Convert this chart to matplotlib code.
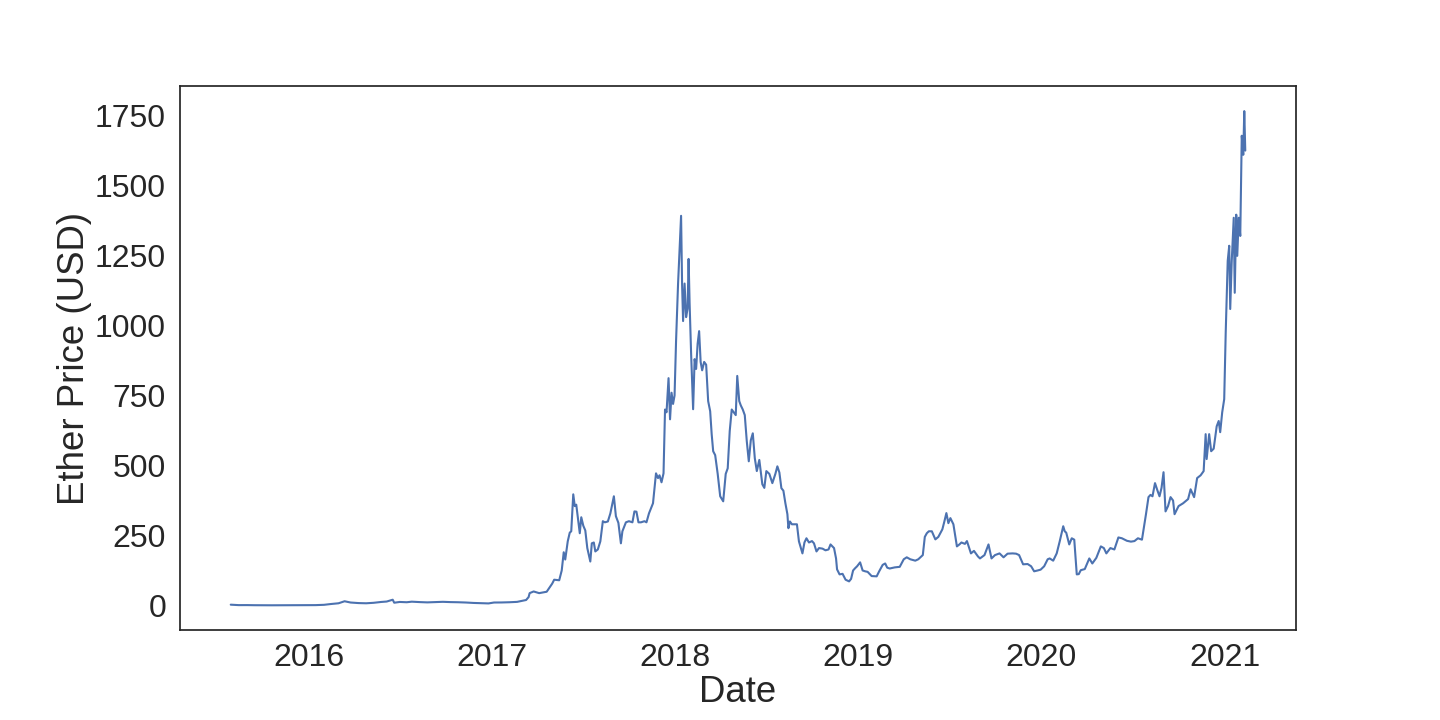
import pandas as pd
import matplotlib
matplotlib.use("Agg")
import matplotlib.pyplot as plt
import seaborn as sns

# Ether price (USD)
dates_2015 = ["2015-07-30", "2015-08-15", "2015-09-01", "2015-09-15", "2015-10-20",
              "2015-11-10", "2015-12-01", "2015-12-31"]
prices_2015 = [2.8, 1.2, 1.3, 0.9, 0.6, 0.9, 0.9, 0.9]

dates_2016 = ["2016-01-15", "2016-02-01", "2016-02-15", "2016-03-01", "2016-03-13",
              "2016-03-25", "2016-04-10", "2016-04-25", "2016-05-10", "2016-05-25",
              "2016-06-05", "2016-06-17", "2016-06-20", "2016-07-01", "2016-07-15",
              "2016-07-25", "2016-08-10", "2016-08-25", "2016-09-10", "2016-09-25",
              "2016-10-10", "2016-10-25", "2016-11-10", "2016-11-25", "2016-12-10",
              "2016-12-25"]
prices_2016 = [1.2, 2.3, 5.2, 7.8, 15, 10.5, 8.5, 7.8, 9.5, 12.5,
               14, 20.5, 9.8, 12.5, 11.5, 13.5, 12, 11, 12, 13,
               12, 11.5, 10.5, 9, 8.3, 7.3]

dates_2017 = ["2017-01-05", "2017-01-20", "2017-02-05", "2017-02-20", "2017-03-01",
              "2017-03-10", "2017-03-15", "2017-03-17", "2017-03-25", "2017-04-05",
              "2017-04-20", "2017-05-01", "2017-05-05", "2017-05-15", "2017-05-20",
              "2017-05-24", "2017-05-27", "2017-06-01", "2017-06-05", "2017-06-08",
              "2017-06-12", "2017-06-15", "2017-06-18", "2017-06-22", "2017-06-25",
              "2017-06-28", "2017-07-02", "2017-07-06", "2017-07-10", "2017-07-16",
              "2017-07-19", "2017-07-23", "2017-07-26", "2017-07-31", "2017-08-05",
              "2017-08-10", "2017-08-14", "2017-08-20", "2017-08-25", "2017-09-01",
              "2017-09-05", "2017-09-10", "2017-09-15", "2017-09-18", "2017-09-25",
              "2017-10-01", "2017-10-08", "2017-10-12", "2017-10-16", "2017-10-20",
              "2017-10-25", "2017-11-01", "2017-11-05", "2017-11-10", "2017-11-18",
              "2017-11-24", "2017-11-28", "2017-12-01", "2017-12-05", "2017-12-09",
              "2017-12-12", "2017-12-15", "2017-12-19", "2017-12-22", "2017-12-25",
              "2017-12-28", "2017-12-31"]
prices_2017 = [10.5, 10.7, 11.5, 12.8, 16, 19.5, 30, 44, 50, 44,
               49, 78, 92, 90, 125, 190, 164, 229, 260, 265,
               397, 355, 360, 300, 258, 315, 285, 268, 205, 157,
               222, 225, 193, 200, 229, 301, 297, 300, 329, 390,
               319, 295, 222, 265, 297, 301, 297, 336, 335, 297,
               297, 301, 297, 329, 365, 472, 455, 465, 440, 472,
               700, 690, 812, 665, 760, 720, 750]

dates_2018 = ["2018-01-03", "2018-01-07", "2018-01-10", "2018-01-13", "2018-01-15",
              "2018-01-17", "2018-01-20", "2018-01-23", "2018-01-26", "2018-01-28",
              "2018-01-30", "2018-02-02", "2018-02-06", "2018-02-09", "2018-02-12",
              "2018-02-15", "2018-02-18", "2018-02-21", "2018-02-24", "2018-02-28",
              "2018-03-04", "2018-03-08", "2018-03-12", "2018-03-15", "2018-03-18",
              "2018-03-22", "2018-03-27", "2018-04-01", "2018-04-07", "2018-04-12",
              "2018-04-16", "2018-04-20", "2018-04-24", "2018-04-28", "2018-05-02",
              "2018-05-05", "2018-05-09", "2018-05-12", "2018-05-16", "2018-05-20",
              "2018-05-24", "2018-05-28", "2018-06-01", "2018-06-05", "2018-06-09",
              "2018-06-13", "2018-06-18", "2018-06-24", "2018-06-28", "2018-07-02",
              "2018-07-08", "2018-07-14", "2018-07-20", "2018-07-24", "2018-07-28",
              "2018-08-01", "2018-08-05", "2018-08-09", "2018-08-13", "2018-08-15",
              "2018-08-18", "2018-08-22", "2018-08-27", "2018-09-01", "2018-09-05",
              "2018-09-12", "2018-09-16", "2018-09-20", "2018-09-25", "2018-10-01",
              "2018-10-05", "2018-10-10", "2018-10-15", "2018-10-22", "2018-10-28",
              "2018-11-03", "2018-11-07", "2018-11-14", "2018-11-18", "2018-11-20",
              "2018-11-25", "2018-12-01", "2018-12-07", "2018-12-14", "2018-12-18",
              "2018-12-22", "2018-12-26", "2018-12-30"]
prices_2018 = [945, 1150, 1270, 1392, 1149, 1016, 1150, 1030, 1060, 1238,
               1080, 900, 701, 880, 845, 935, 980, 870, 840, 870,
               860, 730, 694, 612, 551, 537, 470, 390, 372, 470,
               490, 623, 700, 690, 680, 820, 730, 715, 700, 680,
               587, 515, 590, 615, 526, 480, 520, 433, 420, 480,
               470, 437, 470, 497, 475, 419, 410, 365, 326, 276,
               300, 290, 290, 290, 229, 186, 225, 240, 225, 230,
               222, 193, 205, 203, 197, 200, 218, 205, 168, 129,
               111, 113, 92, 86, 95, 125, 133, 140]

dates_2019 = ["2019-01-05", "2019-01-10", "2019-01-15", "2019-01-20", "2019-01-28",
              "2019-02-07", "2019-02-12", "2019-02-19", "2019-02-24", "2019-02-28",
              "2019-03-05", "2019-03-15", "2019-03-25", "2019-04-02", "2019-04-08",
              "2019-04-15", "2019-04-25", "2019-05-01", "2019-05-10", "2019-05-14",
              "2019-05-18", "2019-05-22", "2019-05-28", "2019-06-04", "2019-06-10",
              "2019-06-18", "2019-06-22", "2019-06-26", "2019-06-30", "2019-07-04",
              "2019-07-10", "2019-07-17", "2019-07-22", "2019-07-26", "2019-08-02",
              "2019-08-06", "2019-08-14", "2019-08-20", "2019-08-28", "2019-09-01",
              "2019-09-10", "2019-09-18", "2019-09-24", "2019-10-01", "2019-10-10",
              "2019-10-18", "2019-10-26", "2019-11-05", "2019-11-12", "2019-11-18",
              "2019-11-26", "2019-12-05", "2019-12-12", "2019-12-18", "2019-12-25",
              "2019-12-31"]
prices_2019 = [154, 125, 122, 120, 105, 104, 122, 145, 150, 135,
               132, 136, 138, 165, 172, 165, 160, 165, 180, 245,
               258, 265, 265, 236, 245, 272, 300, 330, 294, 312,
               290, 211, 218, 225, 220, 230, 186, 195, 175, 168,
               180, 218, 168, 180, 186, 172, 185, 186, 185, 180,
               147, 148, 140, 122, 125, 128]

dates_2020 = ["2020-01-07", "2020-01-14", "2020-01-18", "2020-01-25", "2020-02-01",
              "2020-02-07", "2020-02-14", "2020-02-17", "2020-02-20", "2020-02-26",
              "2020-03-02", "2020-03-07", "2020-03-12", "2020-03-16", "2020-03-20",
              "2020-03-28", "2020-04-06", "2020-04-12", "2020-04-20", "2020-04-29",
              "2020-05-05", "2020-05-10", "2020-05-18", "2020-05-26", "2020-06-03",
              "2020-06-10", "2020-06-20", "2020-06-28", "2020-07-05", "2020-07-12",
              "2020-07-20", "2020-07-24", "2020-07-28", "2020-08-02", "2020-08-06",
              "2020-08-10", "2020-08-15", "2020-08-20", "2020-08-24", "2020-08-28",
              "2020-09-01", "2020-09-05", "2020-09-10", "2020-09-15", "2020-09-20",
              "2020-09-23", "2020-10-01", "2020-10-10", "2020-10-20", "2020-10-25",
              "2020-11-01", "2020-11-07", "2020-11-14", "2020-11-20", "2020-11-24",
              "2020-11-26", "2020-12-01", "2020-12-05", "2020-12-10", "2020-12-16",
              "2020-12-20", "2020-12-23", "2020-12-27", "2020-12-31"]
prices_2020 = [140, 165, 168, 160, 186, 229, 283, 265, 260, 218,
               240, 235, 111, 112, 126, 130, 168, 150, 170, 211,
               205, 186, 205, 200, 243, 240, 231, 228, 230, 240,
               235, 280, 326, 387, 395, 390, 437, 410, 390, 420,
               476, 336, 355, 387, 375, 326, 355, 365, 380, 415,
               387, 455, 465, 480, 612, 523, 612, 551, 560, 640,
               659, 619, 690, 737]

dates_2021 = ["2021-01-03", "2021-01-07", "2021-01-10", "2021-01-12", "2021-01-15",
              "2021-01-19", "2021-01-21", "2021-01-24", "2021-01-26", "2021-01-29",
              "2021-02-01", "2021-02-04", "2021-02-07", "2021-02-09", "2021-02-11"]
prices_2021 = [975, 1231, 1285, 1059, 1230, 1385, 1117, 1396, 1249, 1385,
               1320, 1678, 1610, 1766, 1625]

dates = pd.to_datetime(dates_2015 + dates_2016 + dates_2017 + dates_2018
                       + dates_2019 + dates_2020 + dates_2021)
prices = (prices_2015 + prices_2016 + prices_2017 + prices_2018
          + prices_2019 + prices_2020 + prices_2021)

sns.set(style="white", font_scale=2.2)
plt.rcParams["font.family"] = ["Liberation Sans", "DejaVu Sans"]

fig, ax = plt.subplots(figsize=(14.4, 7.2), dpi=100)
ax.plot(dates, prices, color="#4C72B0", linewidth=1.5)
ax.tick_params(axis="both", labelsize=23)
ax.tick_params(axis="y", pad=4)
ax.set_xlabel("Date", labelpad=1)
ax.set_ylabel("Ether Price (USD)", labelpad=2)
fig.subplots_adjust(left=0.125, right=0.9, top=0.88, bottom=0.125)

plt.savefig("out.png", dpi=100)
